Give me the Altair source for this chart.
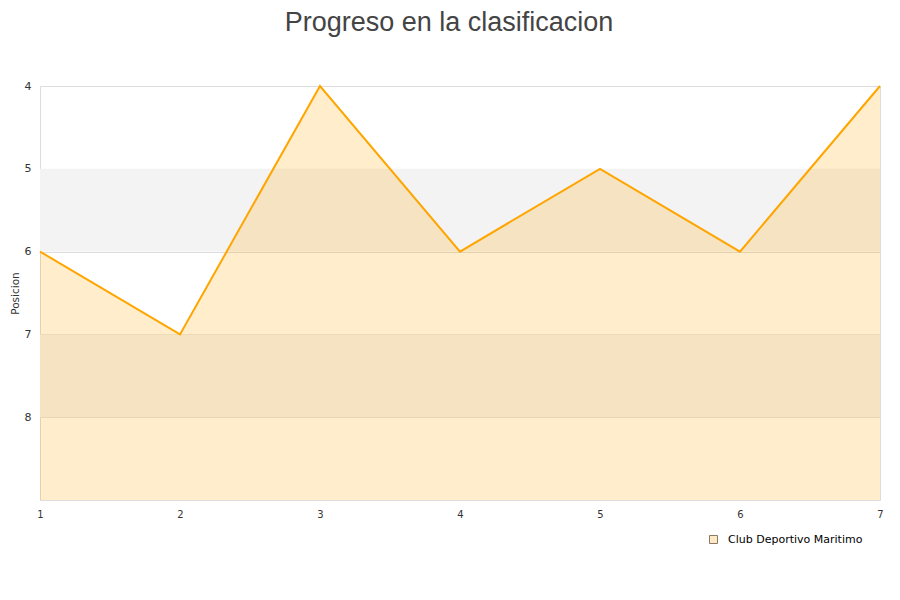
import altair as alt
import pandas as pd

jornadas = [1, 2, 3, 4, 5, 6, 7]
posiciones = [6, 7, 4, 6, 5, 6, 4]
equipo = "Club Deportivo Maritimo"
band_start = [5, 7]
band_end = [6, 8]

df = pd.DataFrame({"jornada": jornadas, "posicion": posiciones, "equipo": [equipo] * len(jornadas)})
bands = pd.DataFrame({"y1": band_start, "y2": band_end})

FONT = "DejaVu Sans"

yscale = alt.Scale(domain=[4, 9], reverse=True, nice=False, zero=False)
xscale = alt.Scale(domain=[1, 7], nice=False, zero=False)

band_layer = alt.Chart(bands).mark_rect(color="#f3f3f3").encode(
    y=alt.Y("y1:Q", scale=yscale),
    y2="y2:Q",
    x=alt.value(0),
    x2=alt.value(840),
)

area = alt.Chart(df).mark_area(opacity=0.2, color="orange").encode(
    x=alt.X("jornada:Q", scale=xscale,
            axis=alt.Axis(values=jornadas, format="d", title=None, ticks=False, domain=False,
                          grid=False, labelFont=FONT, labelFontSize=10, labelColor="#333",
                          labelPadding=9, labelFlush=False)),
    y=alt.Y("posicion:Q", scale=yscale,
            axis=alt.Axis(values=[4, 5, 6, 7, 8], format="d", title="Posicion", ticks=False,
                          domain=False, grid=True, gridColor="#dddddd", labelFont=FONT,
                          labelFontSize=11, labelColor="#333", labelPadding=9,
                          labelFlush=False,
                          titleFont=FONT, titleFontSize=10.5, titleColor="#333",
                          titleFontWeight="normal", titlePadding=4)),
    y2=alt.datum(9),
)

legend_layer = alt.Chart(df.head(1)).mark_square(opacity=0).encode(
    x=alt.X("jornada:Q", scale=xscale),
    y=alt.Y("posicion:Q", scale=yscale),
    fill=alt.Fill("equipo:N", scale=alt.Scale(range=["#fee9c6"]),
                  legend=alt.Legend(title=None, orient="none", legendX=668, legendY=448,
                                    symbolType="square", symbolSize=64,
                                    symbolStrokeColor="#8a7a66",
                                    symbolStrokeWidth=1, symbolOpacity=1,
                                    labelFont=FONT, labelFontSize=11, labelColor="#000",
                                    labelOffset=9, padding=0)),
)

line = alt.Chart(df).mark_line(color="orange", strokeWidth=2).encode(
    x=alt.X("jornada:Q", scale=xscale),
    y=alt.Y("posicion:Q", scale=yscale),
)

chart = alt.layer(band_layer, area, line, legend_layer).properties(
    width=840,
    height=414,
    autosize=alt.AutoSizeParams(type="none"),
    padding={"left": 32, "top": 78, "right": 4, "bottom": 70},
    title=alt.Title("Progreso en la clasificacion", font="Liberation Sans", fontSize=27,
                    fontWeight="normal", color="#444", anchor="middle", dx=-11, offset=43),
).configure_view(stroke="#dddddd").configure(background="white")

chart.save("out.html", embed_options={"renderer": "svg", "actions": False})
